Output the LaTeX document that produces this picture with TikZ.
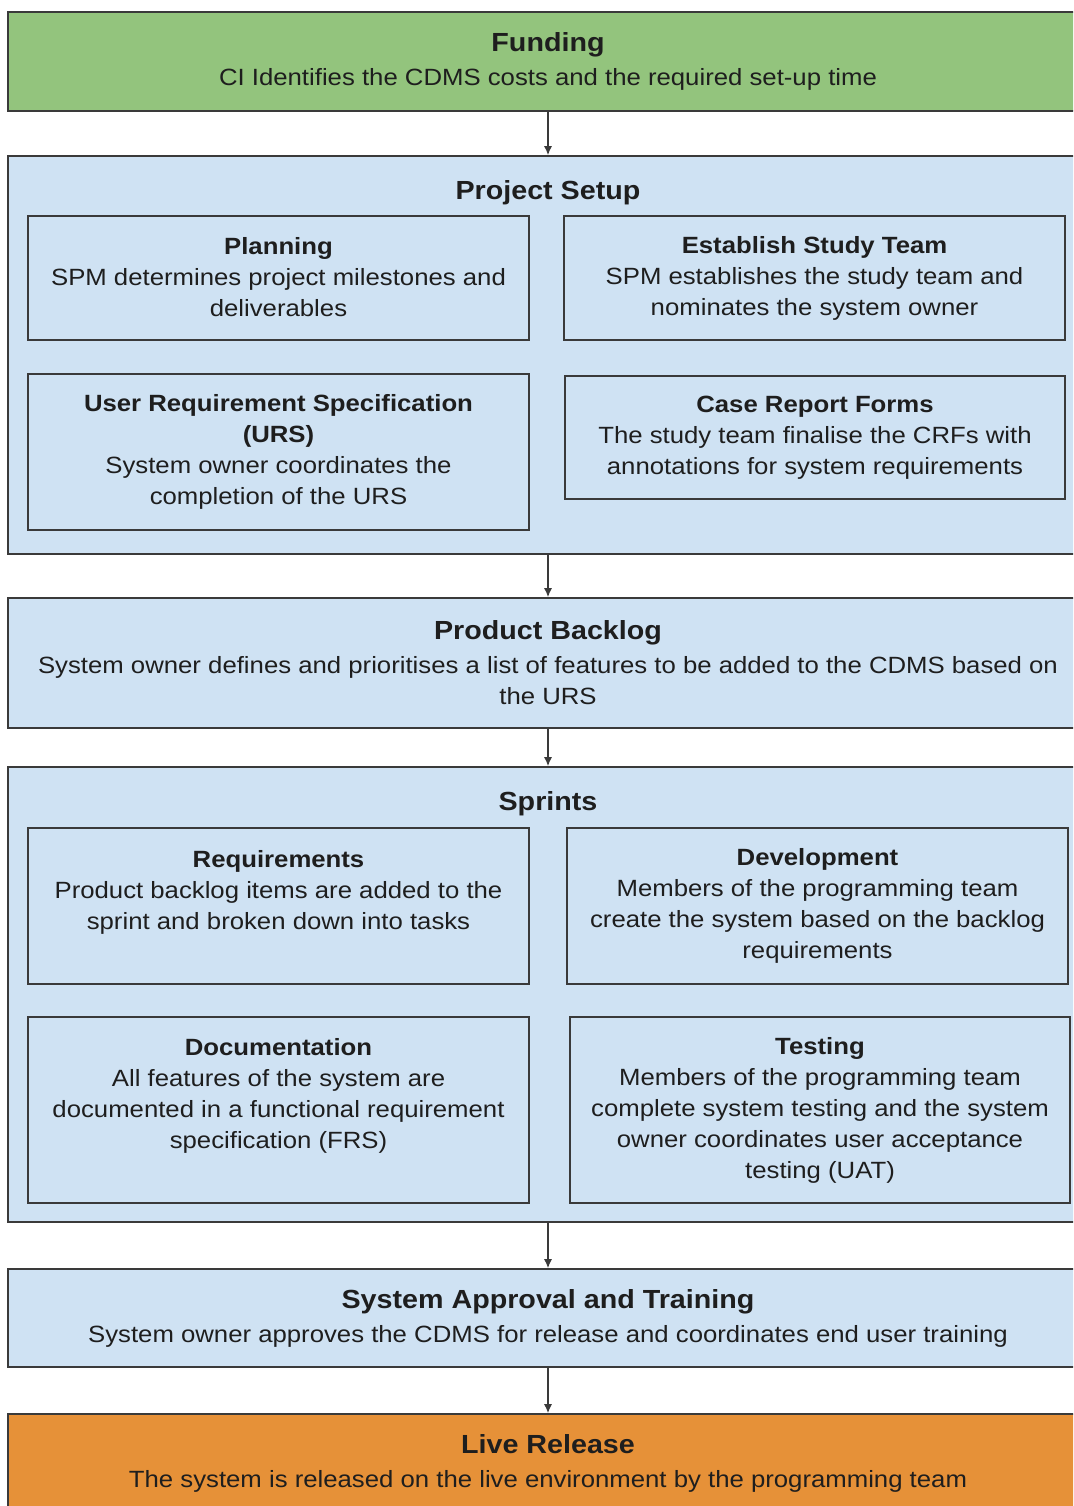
\documentclass[tikz,border=0pt]{standalone}
\usepackage{fontspec}
\setmainfont{Liberation Sans}[FakeStretch=1.095]
\usetikzlibrary{arrows.meta}
\definecolor{fundgreen}{HTML}{93C47D}
\definecolor{paleblue}{HTML}{CFE2F3}
\definecolor{relorange}{HTML}{E69138}
\definecolor{edgegray}{HTML}{3A3A3A}
\definecolor{inkcol}{HTML}{1E1E1E}
\newcommand\mystrut{\rule[-1.75pt]{0pt}{31pt}}
\newcommand\btitle[1]{{\fontsize{26.2}{31}\selectfont\bfseries #1}}
\begin{document}
\begin{tikzpicture}[x=1pt,y=-1pt,
  box/.style={draw=edgegray, line width=1.6pt, inner sep=0pt, align=center,
    font=\fontsize{23.5}{31}\selectfont, text=inkcol,
    execute at begin node=\mystrut, execute at end node=\mystrut},
  outerbox/.style={box, minimum width=1080pt},
  innerbox/.style={box, fill=paleblue},
  ctitle/.style={anchor=base, inner sep=0pt, text=inkcol, font=\fontsize{26.2}{31}\selectfont\bfseries},
  arr/.style={draw=edgegray, line width=1.4pt, -{Latex[length=9pt,width=8pt]}}
]
\path[use as bounding box, clip] (0,0) rectangle (1073,1506);
\fill[white] (0,0) rectangle (1073,1506);

% outer boxes
\node[outerbox, fill=fundgreen, minimum height=99pt] (funding) at (548,61.5)
  {\btitle{Funding}\\[3pt]CI Identifies the CDMS costs and the required set-up time};
\node[outerbox, fill=paleblue, minimum height=398pt] (setup) at (548,355) {};
\node[ctitle] (setupT) at (548,200) {Project Setup};
\node[outerbox, fill=paleblue, minimum height=130pt] (backlog) at (548,663)
  {\btitle{Product Backlog}\\[3pt]System owner defines and prioritises a list of features to be added to the CDMS based on\\the URS};
\node[outerbox, fill=paleblue, minimum height=455pt] (sprints) at (548,994.5) {};
\node[ctitle] (sprintsT) at (548,810) {Sprints};
\node[outerbox, fill=paleblue, minimum height=98pt] (approval) at (548,1318)
  {\btitle{System Approval and Training}\\[3pt]System owner approves the CDMS for release and coordinates end user training};
\node[outerbox, fill=relorange, minimum height=99pt] (release) at (548,1463.5)
  {\btitle{Live Release}\\[3pt]The system is released on the live environment by the programming team};

% project setup inner boxes
\node[innerbox, minimum width=501pt, minimum height=124pt] (plan) at (278.5,278)
  {\textbf{Planning}\\SPM determines project milestones and\\deliverables};
\node[innerbox, minimum width=501pt, minimum height=124pt] (team) at (814.5,278)
  {\textbf{Establish Study Team}\\SPM establishes the study team and\\nominates the system owner};
\node[innerbox, minimum width=501pt, minimum height=156pt] (urs) at (278.5,452)
  {\textbf{User Requirement Specification}\\\textbf{(URS)}\\System owner coordinates the\\completion of the URS};
\node[innerbox, minimum width=500pt, minimum height=123pt] (crf) at (815,437.5)
  {\textbf{Case Report Forms}\\The study team finalise the CRFs with\\annotations for system requirements};

% sprint inner boxes
\node[innerbox, minimum width=501pt, minimum height=156pt] (req) at (278.5,906)
  {\textbf{Requirements}\\Product backlog items are added to the\\sprint and broken down into tasks\\};
\node[innerbox, minimum width=501pt, minimum height=156pt] (dev) at (817.5,906)
  {\textbf{Development}\\Members of the programming team\\create the system based on the backlog\\requirements};
\node[innerbox, minimum width=501pt, minimum height=186pt] (doc) at (278.5,1110)
  {\textbf{Documentation}\\All features of the system are\\documented in a functional requirement\\specification (FRS)\\};
\node[innerbox, minimum width=500pt, minimum height=186pt] (test) at (820,1110)
  {\textbf{Testing}\\Members of the programming team\\complete system testing and the system\\owner coordinates user acceptance\\testing (UAT)};

% connectors
\draw[arr] (funding) -- (setup);
\draw[arr] (setup) -- (backlog);
\draw[arr] (backlog) -- (sprints);
\draw[arr] (sprints) -- (approval);
\draw[arr] (approval) -- (release);
\end{tikzpicture}
\end{document}
